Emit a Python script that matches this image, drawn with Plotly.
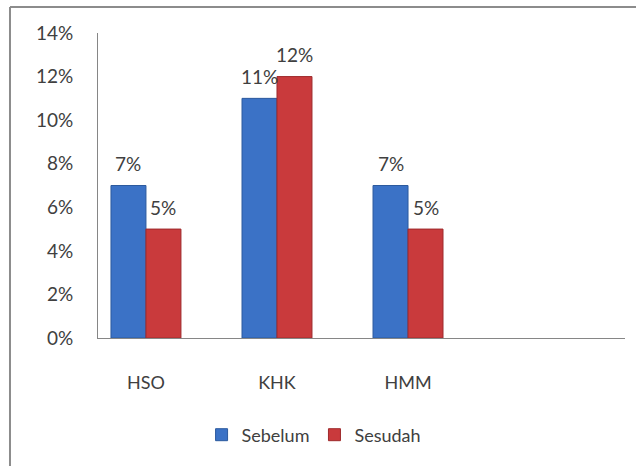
import plotly.graph_objects as go

categories = ["HSO", "KHK", "HMM"]
sebelum = [0.07, 0.11, 0.07]
sesudah = [0.05, 0.12, 0.05]
series_names = ["Sebelum", "Sesudah"]
y_ticks = [0, 0.02, 0.04, 0.06, 0.08, 0.10, 0.12, 0.14]

xpos = list(range(len(categories)))
blue = "#3b72c6"
red = "#c93a3c"
txt = "#404040"
font_family = "Lato, Liberation Sans, sans-serif"

fig = go.Figure()
fig.add_trace(go.Bar(x=xpos, y=sebelum, name=series_names[0],
                     marker=dict(color=blue, line=dict(color="#2c5a9e", width=1))))
fig.add_trace(go.Bar(x=xpos, y=sesudah, name=series_names[1],
                     marker=dict(color=red, line=dict(color="#9e2a2c", width=1))))

half = (1 - 0.466) / 4
for i, (a, b) in enumerate(zip(sebelum, sesudah)):
    for off, v in ((-half, a), (half, b)):
        fig.add_annotation(x=i + off, y=v, text=f"{round(v*100)}%", showarrow=False,
                           yshift=22, font=dict(size=19, color=txt, family=font_family))

border = "#8c8c8c"
fig.add_shape(type="line", xref="paper", yref="paper", x0=-0.167, x1=1.03, y0=1.085, y1=1.085,
              line=dict(color=border, width=2))
fig.add_shape(type="line", xref="paper", yref="paper", x0=-0.167, x1=-0.167, y0=1.085, y1=-0.43,
              line=dict(color=border, width=2))

fig.update_layout(
    width=636, height=466,
    margin=dict(l=98, r=11, t=33, b=128),
    paper_bgcolor="white", plot_bgcolor="white",
    barmode="group", bargap=0.466, bargroupgap=0,
    font=dict(family=font_family, size=18, color=txt),
    showlegend=True,
    legend=dict(orientation="h", x=0.41, xanchor="center", y=-0.318, yanchor="middle",
                font=dict(size=18, color=txt), itemwidth=30, traceorder="normal"),
    xaxis=dict(range=[-0.366, 3.656], tickvals=xpos, ticktext=categories,
               showline=True, linecolor="#868686", linewidth=1, showgrid=False,
               zeroline=False, ticks="", ticklabelstandoff=28),
    yaxis=dict(range=[0, 0.14], tickvals=y_ticks, tickformat=".0%",
               showline=True, linecolor="#868686", linewidth=1, showgrid=False,
               zeroline=False, ticks="", ticklabelstandoff=20, tickfont=dict(size=19)),
)

fig.write_html("out.html", config={"displayModeBar": False},
               post_script="document.body.style.margin='0';")
